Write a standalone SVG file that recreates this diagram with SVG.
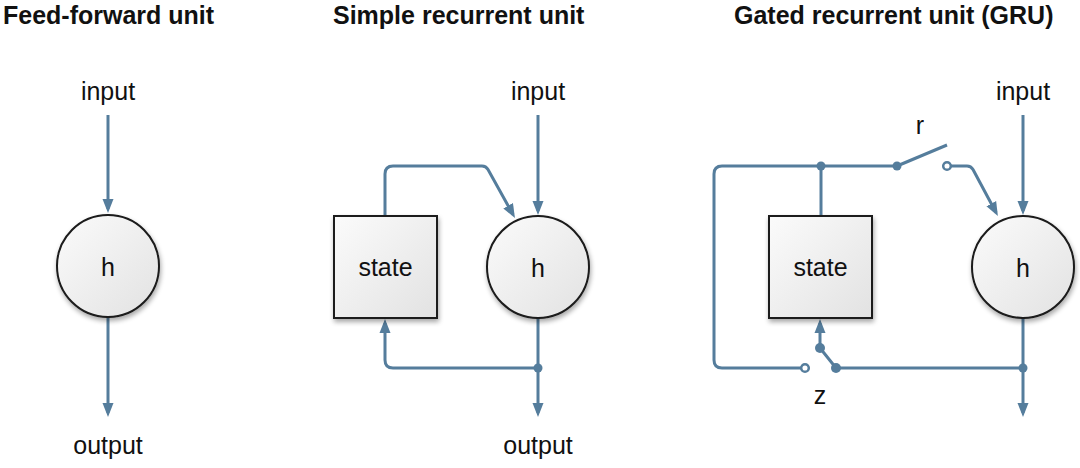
<svg xmlns="http://www.w3.org/2000/svg" width="1080" height="468" viewBox="0 0 1080 468">
<defs>
<linearGradient id="fillg" x1="0" y1="0" x2="1" y2="1">
<stop offset="0" stop-color="#fbfbfb"/>
<stop offset="1" stop-color="#e2e2e2"/>
</linearGradient>
<filter id="shadow" x="-20%" y="-20%" width="150%" height="150%">
<feGaussianBlur in="SourceAlpha" stdDeviation="2.5"/>
<feOffset dx="1" dy="3" result="b"/>
<feComponentTransfer><feFuncA type="linear" slope="0.35"/></feComponentTransfer>
<feMerge><feMergeNode/><feMergeNode in="SourceGraphic"/></feMerge>
</filter>
<marker id="arr" markerUnits="userSpaceOnUse" markerWidth="16" markerHeight="12" viewBox="0 0 16 12" refX="10" refY="6" orient="auto">
<path d="M0,0.5 L14,6 L0,11.5 z" fill="#557d9c"/>
</marker>
</defs>
<style>
.title{font-family:"Liberation Sans",Arial,sans-serif;font-weight:bold;font-size:25px;fill:#111}
.lbl{font-family:"Liberation Sans",Arial,sans-serif;font-size:25px;fill:#111}
.node{fill:url(#fillg);stroke:#1a1a1a;stroke-width:2}
.wire{fill:none;stroke:#557d9c;stroke-width:3;stroke-linejoin:round}
.arrow{marker-end:url(#arr)}
.dot{fill:#557d9c}
.open{fill:#fff;stroke:#557d9c;stroke-width:2.5}
</style>
<rect width="1080" height="468" fill="#fff"/>

<g id="titles">
<text class="title" x="3" y="24">Feed-forward unit</text>
<text class="title" x="333" y="24">Simple recurrent unit</text>
<text class="title" x="734" y="24">Gated recurrent unit (GRU)</text>
</g>

<g id="labels">
<text class="lbl" x="108" y="100" text-anchor="middle">input</text>
<text class="lbl" x="108" y="454" text-anchor="middle">output</text>
<text class="lbl" x="538" y="100" text-anchor="middle">input</text>
<text class="lbl" x="538" y="454" text-anchor="middle">output</text>
<text class="lbl" x="1023" y="100" text-anchor="middle">input</text>
<text class="lbl" x="920" y="134" text-anchor="middle">r</text>
<text class="lbl" x="820" y="404" text-anchor="middle">z</text>
</g>

<g id="connectors">
<!-- feed-forward -->
<path class="wire arrow" d="M108,115 V209"/>
<path class="wire arrow" d="M108,317 V413"/>
<!-- simple recurrent -->
<path class="wire arrow" d="M538,115 V211"/>
<path class="wire arrow" d="M538,318 V413"/>
<path class="wire arrow" d="M385,216 V174 Q385,166 393,166 H482 Q486,166 488,169.5 L513,214.5"/>
<path class="wire arrow" d="M538,368 H393 Q385,368 385,360 V323"/>
<circle class="dot" cx="538" cy="368" r="4.5"/>
<!-- GRU -->
<path class="wire arrow" d="M1023,115 V211"/>
<path class="wire arrow" d="M1023,318 V413"/>
<path class="wire" d="M821,216 V166"/>
<path class="wire" d="M805,368 H722 Q714,368 714,360 V174 Q714,166 722,166 H897"/>
<path class="wire" d="M897,166 L947,145"/>
<path class="wire arrow" d="M951,166 H967 Q971,166 973,169.5 L996,212.5"/>
<path class="wire" d="M1023,368 H836 L820,348"/>
<path class="wire arrow" d="M820,348 V323"/>
<circle class="dot" cx="821" cy="166" r="4.5"/>
<circle class="dot" cx="897" cy="166" r="4.5"/>
<circle class="open" cx="947" cy="166" r="3.8"/>
<circle class="dot" cx="1023" cy="368" r="4.5"/>
<circle class="dot" cx="836" cy="368" r="5"/>
<circle class="dot" cx="820" cy="348" r="5"/>
<circle class="open" cx="805" cy="368" r="3.8"/>
</g>

<g id="ff-h">
<circle class="node" cx="108" cy="266" r="51" filter="url(#shadow)"/>
<text class="lbl" x="108" y="276" text-anchor="middle">h</text>
</g>

<g id="srn-state">
<rect class="node" x="334" y="216" width="103" height="102" filter="url(#shadow)"/>
<text class="lbl" x="385.5" y="276" text-anchor="middle">state</text>
</g>
<g id="srn-h">
<circle class="node" cx="538" cy="267" r="51" filter="url(#shadow)"/>
<text class="lbl" x="538" y="277" text-anchor="middle">h</text>
</g>

<g id="gru-state">
<rect class="node" x="769" y="216" width="103" height="102" filter="url(#shadow)"/>
<text class="lbl" x="820.5" y="276" text-anchor="middle">state</text>
</g>
<g id="gru-h">
<circle class="node" cx="1023" cy="267" r="51" filter="url(#shadow)"/>
<text class="lbl" x="1023" y="277" text-anchor="middle">h</text>
</g>
</svg>
